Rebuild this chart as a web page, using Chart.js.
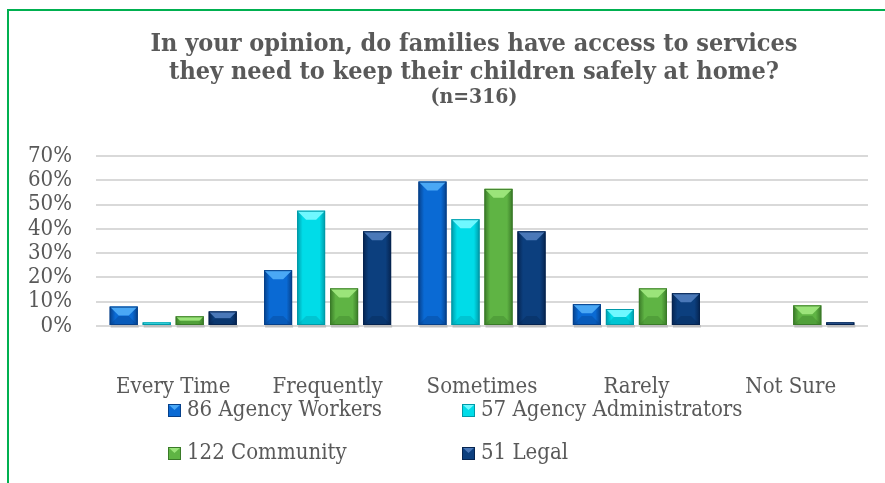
<!DOCTYPE html>
<html>
<head>
<meta charset="utf-8">
<script src="https://cdn.jsdelivr.net/npm/chart.js@4.4.0/dist/chart.umd.min.js"></script>
<style>
  html, body { margin: 0; padding: 0; background: #fff; }
  #wrap { position: relative; width: 885px; height: 483px; }
  #frame { position: absolute; left: 7px; top: 9px; right: 0; bottom: -10px;
           border-top: 2px solid #00b050; border-left: 2px solid #00b050; }
  canvas { position: absolute; left: 0; top: 0; }
</style>
</head>
<body>
<div id="wrap">
  <div id="frame"></div>
  <canvas id="myChart" width="885" height="483"></canvas>
</div>
<script>
const categories = ['Every Time', 'Frequently', 'Sometimes', 'Rarely', 'Not Sure'];
const seriesNames = ['86 Agency Workers', '57 Agency Administrators', '122 Community', '51 Legal'];
const agencyWorkers = [8, 23, 59.5, 9, 0];
const agencyAdmins = [1.5, 47.5, 44, 7, 0];
const community = [4, 15.5, 56.5, 15.5, 8.5];
const legal = [6, 39, 39, 13.5, 1.5];
const yTicks = [0, 10, 20, 30, 40, 50, 60, 70];

// main / light top / dark edge
const barColors = [
    ['#0a6ad4', '#4aa8f5', '#06408a'],
    ['#00dce8', '#6ff8ff', '#009aa8'],
    ['#5fb444', '#9be47a', '#3a7a28'],
    ['#0c3f7e', '#4a78b8', '#062450']
];

const textColor = '#595959';
const serif = "'DejaVu Serif Condensed', 'DejaVu Serif', serif";

const ctx = document.getElementById('myChart').getContext('2d');

// title block is centred a bit right of the canvas middle
const titleShift = {
    id: 'titleShift',
    afterLayout(chart) {
        chart.boxes.forEach(b => {
            if (b.position === 'top' && b.options && 'text' in b.options) {
                b.left = 63;
                b.right = 885;
                b.width = b.right - b.left;
            }
        });
    }
};

// draws the bevel look on each bar
const bevelPlugin = {
    id: 'bevel',
    afterDatasetsDraw(chart) {
        const c = chart.ctx;
        chart.data.datasets.forEach((ds, i) => {
            const meta = chart.getDatasetMeta(i);
            const col = barColors[i];
            meta.data.forEach(bar => {
                const h = bar.base - bar.y;
                if (h <= 0.5) return;
                const l = bar.x - bar.width / 2, r = bar.x + bar.width / 2;
                const t = bar.y, b = bar.base;
                const d = Math.min(9, h / 2, bar.width / 2);
                c.save();
                // soft shadow at the base
                c.fillStyle = 'rgba(0,0,0,0.12)';
                c.fillRect(l + 1, b, r - l, 3);
                // side shading
                const g = c.createLinearGradient(l, 0, r, 0);
                g.addColorStop(0, col[2]);
                g.addColorStop(0.2, col[0]);
                g.addColorStop(0.8, col[0]);
                g.addColorStop(1, col[2]);
                c.fillStyle = g;
                c.fillRect(l, t, r - l, h);
                // top bevel
                c.fillStyle = col[1];
                c.beginPath();
                c.moveTo(l, t);
                c.lineTo(r, t);
                c.lineTo(r - d, t + d);
                c.lineTo(l + d, t + d);
                c.closePath();
                c.fill();
                // bottom bevel
                c.globalAlpha = 0.35;
                c.fillStyle = col[2];
                c.beginPath();
                c.moveTo(l, b);
                c.lineTo(r, b);
                c.lineTo(r - d, b - d);
                c.lineTo(l + d, b - d);
                c.closePath();
                c.fill();
                c.globalAlpha = 1;
                c.strokeStyle = col[2];
                c.lineWidth = 1;
                c.strokeRect(l + 0.5, t + 0.5, r - l - 1, h - 1);
                c.restore();
            });
        });
    }
};

// two column legend under the chart
const gridLegend = {
    id: 'gridLegend',
    afterDraw(chart) {
        const c = chart.ctx;
        const cols = [168, 462];
        const rows = [410, 453];
        c.save();
        c.font = "22px " + serif;
        c.textBaseline = 'middle';
        chart.data.datasets.forEach((ds, i) => {
            const x = cols[i % 2], y = rows[Math.floor(i / 2)];
            const col = barColors[i];
            c.fillStyle = col[0];
            c.fillRect(x, y - 6, 13, 13);
            c.fillStyle = col[1];
            c.beginPath();
            c.moveTo(x, y - 6);
            c.lineTo(x + 13, y - 6);
            c.lineTo(x + 6.5, y);
            c.closePath();
            c.fill();
            c.strokeStyle = col[2];
            c.strokeRect(x + 0.5, y - 5.5, 12, 12);
            c.fillStyle = textColor;
            c.fillText(ds.label, x + 19, y);
        });
        c.restore();
    }
};

const seriesValues = [agencyWorkers, agencyAdmins, community, legal];

const myChart = new Chart(ctx, {
    type: 'bar',
    data: {
        labels: categories,
        datasets: seriesValues.map((vals, i) => ({
            label: seriesNames[i],
            data: vals,
            backgroundColor: barColors[i][0],
            borderColor: barColors[i][2],
            borderWidth: 1,
            categoryPercentage: 0.855,
            barPercentage: 0.85
        }))
    },
    options: {
        responsive: false,
        animation: false,
        layout: { padding: { left: 0, right: 17, top: 0, bottom: 84 } },
        plugins: {
            legend: { display: false },
            tooltip: { enabled: false },
            title: {
                display: true,
                text: ['In your opinion, do families have access to services',
                       'they need to keep their children safely at home?'],
                color: textColor,
                font: { family: serif, size: 25, weight: 'bold', lineHeight: 1.1 },
                padding: { top: 31, bottom: 0 }
            },
            subtitle: {
                display: true,
                text: '(n=316)',
                color: textColor,
                font: { family: serif, size: 21, weight: 'bold', lineHeight: 1.1 },
                padding: { top: 0, bottom: 47 }
            }
        },
        scales: {
            x: {
                grid: { display: false },
                border: { display: false },
                ticks: { color: textColor, font: { family: serif, size: 22 }, padding: 40 },
                afterFit(scale) { scale.height = 73; }
            },
            y: {
                min: 0,
                max: 70,
                afterBuildTicks(scale) { scale.ticks = yTicks.map(v => ({ value: v })); },
                grid: { color: '#d9d9d9', lineWidth: 2, drawTicks: false },
                border: { display: false },
                ticks: {
                    color: textColor,
                    font: { family: serif, size: 22 },
                    padding: 24,
                    autoSkip: false,
                    callback: v => v + '%'
                },
                afterFit(scale) { scale.width = 96; }
            }
        }
    },
    plugins: [titleShift, bevelPlugin, gridLegend]
});
</script>
</body>
</html>
